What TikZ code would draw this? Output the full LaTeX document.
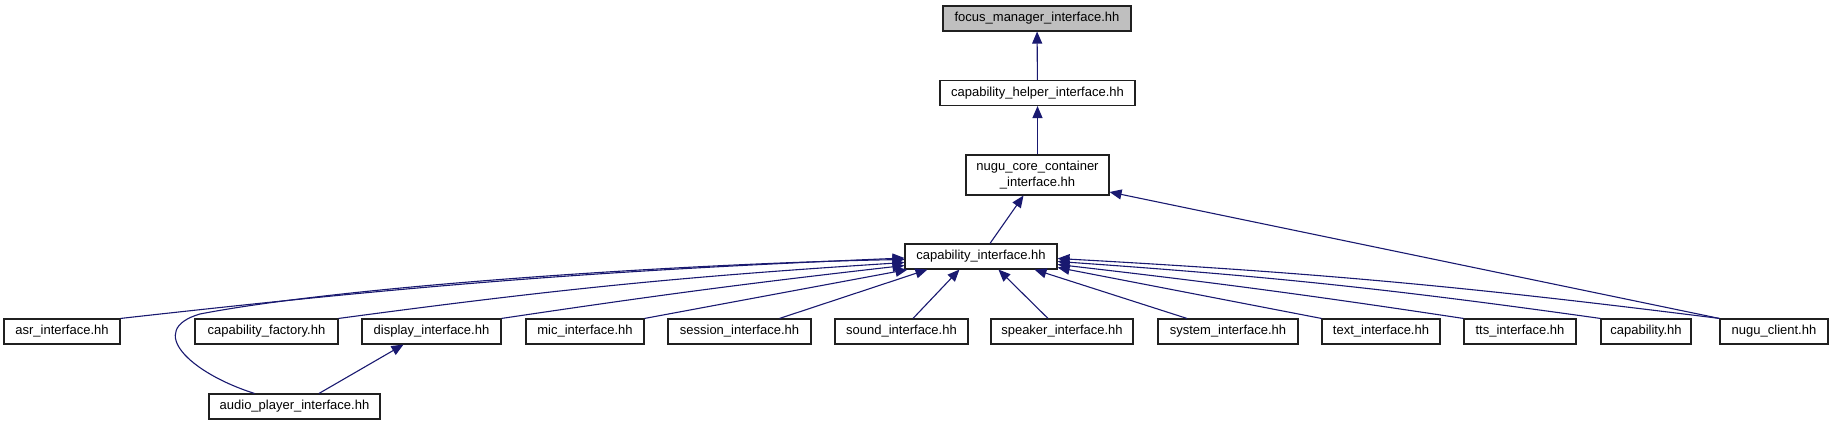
\documentclass[tikz,border=0pt]{standalone}
\usepackage{fontspec}
\setmainfont{Liberation Sans}
\usetikzlibrary{arrows.meta}
\definecolor{edgeblue}{HTML}{191970}
\definecolor{headgray}{HTML}{BFBFBF}
\definecolor{boxline}{HTML}{202020}

\begin{document}
\begin{tikzpicture}[x=1pt, y=1pt,
    hfile/.style={draw=boxline, line width=1.1pt, fill=white, inner sep=0pt,
                  minimum height=25pt, font=\fontsize{13}{16}\selectfont},
    incl/.style={draw=edgeblue, line width=1.1pt, -{Triangle[length=12pt, width=10pt]}}]
    \useasboundingbox (0,0) rectangle (1832,425);

    % Top chain
    \node[hfile, fill=headgray, minimum width=188pt] (focus) at (1037,406.5) {focus\_manager\_interface.hh};
    \node[hfile, minimum width=195pt] (helper) at (1037.5,332) {capability\_helper\_interface.hh};
    \node[hfile, minimum width=143pt, minimum height=40pt, align=center] (core) at (1037.5,250) {nugu\_core\_container\\\_interface.hh};
    \node[hfile, minimum width=152pt] (capif) at (981,168.5) {capability\_interface.hh};

    % Includers
    \node[hfile, minimum width=116pt] (asr) at (62,93.5) {asr\_interface.hh};
    \node[hfile, minimum width=143pt] (factory) at (266.5,93.5) {capability\_factory.hh};
    \node[hfile, minimum width=139pt] (display) at (431.5,93.5) {display\_interface.hh};
    \node[hfile, minimum width=118pt] (mic) at (585,93.5) {mic\_interface.hh};
    \node[hfile, minimum width=143pt] (session) at (739.5,93.5) {session\_interface.hh};
    \node[hfile, minimum width=133pt] (sound) at (901.5,93.5) {sound\_interface.hh};
    \node[hfile, minimum width=142pt] (speaker) at (1062,93.5) {speaker\_interface.hh};
    \node[hfile, minimum width=140pt] (system) at (1228,93.5) {system\_interface.hh};
    \node[hfile, minimum width=118pt] (text) at (1381,93.5) {text\_interface.hh};
    \node[hfile, minimum width=112pt] (tts) at (1520,93.5) {tts\_interface.hh};
    \node[hfile, minimum width=90pt] (capability) at (1646,93.5) {capability.hh};
    \node[hfile, minimum width=108pt] (client) at (1774,93.5) {nugu\_client.hh};
    \node[hfile, minimum width=171pt] (audio) at (294.5,18.5) {audio\_player\_interface.hh};

    % Edges
    \draw[incl] (helper) -- (focus);
    \draw[incl] (core) -- (helper);
    \draw[incl] ([xshift=9pt]capif.north) -- ([xshift=-14pt]core.south);
    \draw[incl] (client.north west) -- ([yshift=-17pt]core.east);
    \draw[incl] (asr.north east) to[bend left=2] ([yshift=-1.5pt]capif.west);
    \draw[incl] ([xshift=-40pt]audio.north) .. controls (190,52) and (145,95) .. (200,111)
        .. controls (350,140) and (700,162) .. ([yshift=-3pt]capif.west);
    \draw[incl] (factory.north east) to[bend left=2] ([yshift=-6pt]capif.west);
    \draw[incl] (display.north east) to[bend left=1] ([yshift=-9pt]capif.west);
    \draw[incl] (mic.north east) -- ([xshift=3pt]capif.south west);
    \draw[incl] ([xshift=40pt]session.north) -- ([xshift=23pt]capif.south west);
    \draw[incl] ([xshift=11.5pt]sound.north) -- ([xshift=55pt]capif.south west);
    \draw[incl] ([xshift=-14pt]speaker.north) -- ([xshift=94pt]capif.south west);
    \draw[incl] ([xshift=-41pt]system.north) -- ([xshift=130pt]capif.south west);
    \draw[incl] (text.north west) -- ([yshift=-11pt]capif.east);
    \draw[incl] (tts.north west) to[bend right=1] ([yshift=-8pt]capif.east);
    \draw[incl] (capability.north west) to[bend right=2] ([yshift=-5pt]capif.east);
    \draw[incl] (client.north west) to[bend right=2] ([yshift=-2pt]capif.east);
    \draw[incl] ([xshift=24.5pt]audio.north) -- ([xshift=-28pt]display.south);
\end{tikzpicture}
\end{document}
